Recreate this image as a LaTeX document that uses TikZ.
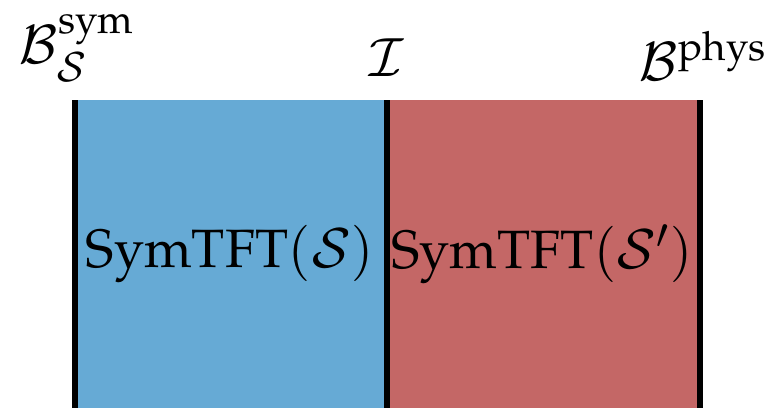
\documentclass[tikz,border=0pt]{standalone}
\usepackage[T1]{fontenc}
\usepackage{mathpazo}
\definecolor{symblue}{RGB}{102,170,213}
\definecolor{symred}{RGB}{196,103,102}
\begin{document}
\begin{tikzpicture}[x=1pt,y=-1pt,
  bigtext/.style={inner sep=0pt,font=\fontsize{54}{65}\selectfont},
  labeltext/.style={inner sep=0pt,font=\fontsize{53}{64}\selectfont},
  wall/.style={line width=6pt,black}]
\useasboundingbox (0,0) rectangle (764,408);
\fill[symblue] (75,100) rectangle (387,408);
\fill[symred] (387,100) rectangle (700,408);
\draw[wall] (75,100) -- (75,408);
\draw[wall] (387,100) -- (387,408);
\draw[wall] (700,100) -- (700,408);
\node[bigtext] (l) at (230,254) {SymTFT$(\mathcal{S})$};
\node[bigtext] (r) at (542,254) {SymTFT$(\mathcal{S}')$};
\node[labeltext,anchor=base west] (bs) at (19,63) {$\mathcal{B}^{\mathrm{sym}}_{\mathcal{S}}$};
\node[labeltext,anchor=base] (i) at (387,76) {$\mathcal{I}$};
\node[labeltext,anchor=base west] (bp) at (639,80) {$\mathcal{B}^{\mathrm{phys}}$};
\end{tikzpicture}
\end{document}
